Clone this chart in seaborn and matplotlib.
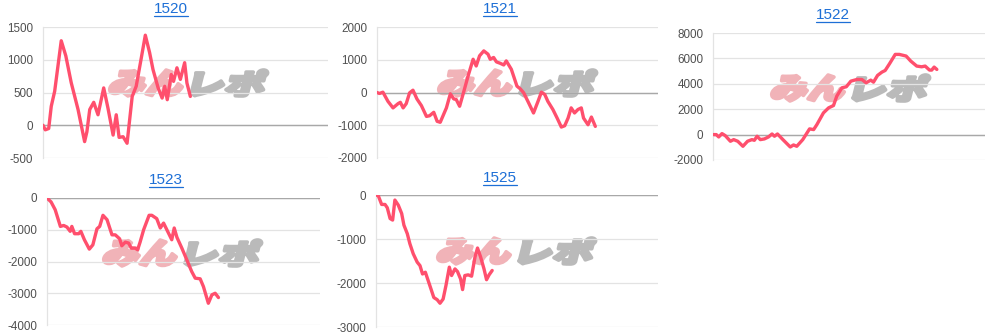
import matplotlib
matplotlib.use('Agg')
import numpy as np
import pandas as pd
import matplotlib.pyplot as plt
import seaborn as sns
from matplotlib.textpath import TextPath
from matplotlib.font_manager import FontProperties
from matplotlib.patches import PathPatch
from matplotlib.transforms import Affine2D, IdentityTransform
from matplotlib.lines import Line2D

sns.set_theme(style='white')
plt.rcParams['font.family'] = ['Liberation Sans', 'DejaVu Sans']
plt.rcParams['axes.unicode_minus'] = False

# ---------------- data ----------------
titles = ['1520', '1521', '1522', '1523', '1525']

x_1520 = [0, 0.8, 2.0, 2.9, 4.1, 6.4, 8.0, 9.9, 12.3, 14.6, 15.4, 16.4, 17.8, 19.3, 21.3, 22.8, 24.6, 25.7, 26.7, 28.1,
          29.5, 31.3, 32.7, 34.5, 35.9, 37.4, 38.6, 40.4, 41.8, 42.7, 43.6, 45.0, 45.8, 47.0, 48.2, 49.7, 50.5, 51.7]
y_1520 = [0, -70, -50, 290, 520, 1290, 1060, 650, 240, -250, -100, 240, 350, 160, 570, 260, -150, 160, -185, -175,
          -275, 440, 595, 1030, 1375, 1110, 850, 570, 415, 595, 390, 775, 670, 877, 700, 955, 645, 440]

x_1521 = [0, 0.9, 2.1, 3.9, 5.7, 7.5, 8.3, 9.3, 10.4, 11.6, 12.8, 14.2, 15.8, 17.6, 18.7, 20.2, 21.4, 22.5, 24.7, 26.1,
          27.3, 28.2, 29.4, 30.6, 32.4, 34.2, 35.3, 36.5, 38.0, 39.5, 40.3, 41.5, 42.5, 43.9, 45.1, 46.0, 47.8, 49.8, 51.0, 52.2,
          53.7, 55.7, 57.3, 58.5, 59.7, 60.8, 62.6, 64.1, 65.6, 66.8, 68.0, 69.1, 70.3, 71.5, 72.7, 73.5, 75.1, 76.3, 77.7]
y_1521 = [0, -30, 10, -270, -470, -340, -300, -470, -340, -10, 70, -195, -400, -730, -710, -605, -880, -910, -470, -40,
          -195, -215, -420, -60, 500, 1015, 810, 1120, 1270, 1170, 1015, 1070, 935, 890, 840, 965, 710, 195, 110, -10,
          -270, -625, -270, 10, -60, -270, -520, -780, -1055, -1015, -780, -470, -625, -520, -470, -780, -985, -750, -1035]

x_1522 = [0, 1.2, 2.1, 3.3, 4.5, 6.4, 7.6, 9.1, 11.0, 12.7, 14.3, 15.2, 16.2, 17.4, 18.9, 20.4, 21.7, 22.6, 23.7, 25.7,
          28.4, 29.6, 30.8, 33.0, 35.5, 37.0, 38.2, 40.6, 42.5, 44.3, 45.5, 47.4, 49.0, 50.7, 52.9, 54.7, 56.3, 58.0, 59.0, 60.5,
          62.1, 63.3, 64.9, 67.0, 68.5, 71.0, 72.7, 74.9, 76.7, 78.0, 79.6, 80.4, 81.3, 82.3]
y_1522 = [0, 0, -185, 80, -80, -525, -395, -525, -920, -525, -395, -450, -130, -395, -340, -185, 50, -130, 50, -395,
          -975, -815, -920, -395, 450, 395, 790, 1710, 2105, 2290, 3025, 3685, 3765, 4210, 4340, 4340, 4080, 4290, 4130, 4660,
          4920, 5050, 5580, 6315, 6315, 6185, 5790, 5395, 5340, 5395, 5080, 5080, 5315, 5130]

x_1523 = [0, 1.5, 3.0, 4.9, 6.1, 7.3, 8.5, 9.1, 10.1, 11.6, 12.4, 13.7, 15.5, 16.8, 18.3, 19.3, 20.5, 22.0, 23.8, 25.0,
          26.6, 27.4, 28.7, 29.9, 30.9, 32.3, 33.2, 34.1, 35.4, 37.4, 38.4, 40.2, 41.5, 42.7, 44.5, 45.7, 46.6, 47.6, 49.4, 51.2,
          53.0, 54.3, 56.1, 57.3, 59.1, 60.4, 61.6, 62.8]
y_1523 = [0, -125, -370, -895, -865, -915, -1050, -895, -1125, -1125, -1050, -1315, -1610, -1475, -970, -895, -545, -685, -1160, -1160,
          -1285, -1505, -1390, -1420, -1580, -1580, -1630, -1390, -1000, -545, -545, -650, -945, -790, -1105, -1315, -945, -1240, -1580, -1945,
          -2315, -2525, -2545, -2790, -3315, -3050, -3000, -3135]

x_1525 = [0, 0.8, 2.0, 3.2, 4.0, 5.0, 5.9, 6.7, 7.9, 9.1, 9.9, 11.1, 12.0, 13.2, 14.6, 15.6, 16.5, 17.5, 18.5, 19.7,
          20.5, 21.7, 22.7, 23.8, 24.8, 26.0, 26.8, 28.0, 28.9, 30.0, 30.7, 31.5, 32.7, 33.9, 35.1, 36.0, 37.1, 38.3, 39.2, 40.1, 41.2]
y_1525 = [0, -15, -215, -215, -290, -535, -570, -115, -230, -420, -685, -880, -1105, -1335, -1525, -1605, -1795, -1755, -1945, -2175,
          -2330, -2380, -2460, -2365, -2060, -1640, -1830, -1680, -1740, -1910, -2150, -1830, -1815, -1845, -1410, -1205, -1410, -1680, -1925, -1815, -1715]

y_ranges = [(-500, 1500, 500), (-2000, 2000, 1000), (-2000, 8000, 2000), (-4000, 0, 1000), (-3000, 0, 1000)]
series = [(x_1520, y_1520), (x_1521, y_1521), (x_1522, y_1522), (x_1523, y_1523), (x_1525, y_1525)]

# ---------------- layout (pixels) ----------------
W, H = 991, 334
boxes = [(43, 328, 27, 158), (377, 658, 27, 158), (713, 985, 33, 160), (47, 320, 198, 325), (376, 658, 195, 327)]
title_pos = [(171, 9), (500, 9), (833, 15), (166, 180), (500, 178)]
logo_pos = [(188, 83), (517, 83), (850, 88), (182, 253), (516, 251)]

LINE = '#ff4f6d'
GRID = '#e3e3e3'
BASE = '#a8a8a8'
TXT = '#505050'
TITLE = '#1d6fd6'

fig = plt.figure(figsize=(W / 100, H / 100), dpi=100)
fig.patch.set_facecolor('white')

fp = FontProperties(family='Noto Sans CJK JP', weight='black')


def add_logo(cx, cy):
    parts = [('みん', '#f1b3b8', 'right'), ('レポ', '#bababa', 'left')]
    for s, col, side in parts:
        tp = TextPath((0, 0), s, size=40, prop=fp)
        ext = tp.get_extents()
        sx = 72 / ext.width
        sy = 26 / ext.height
        x0 = cx - 5 - 72 if side == 'right' else cx + 5
        T = (Affine2D().translate(-ext.x0, -ext.y0).scale(sx, sy)
             .skew_deg(14, 0).translate(x0 - 3, H - cy - 13))
        p = PathPatch(tp, transform=T, facecolor=col, edgecolor=col, linewidth=2.6,
                      joinstyle='round', zorder=-5)
        fig.add_artist(p)


title_texts = []
for i, ((xs, ys), (lo, hi, st), (l, r, t, b)) in enumerate(zip(series, y_ranges, boxes)):
    ax = fig.add_axes([l / W, 1 - b / H, (r - l) / W, (b - t) / H])
    ax.set_facecolor('none')
    df = pd.DataFrame({'x': xs, 'y': ys})
    ax.axhline(0, color=BASE, lw=1.0, zorder=1)
    sns.lineplot(data=df, x='x', y='y', ax=ax, color=LINE, linewidth=2.4, zorder=3)
    ax.set_xlim(0, 100)
    ax.set_ylim(lo, hi)
    ax.set_yticks(np.arange(lo, hi + 1, st))
    ax.set_yticklabels([str(v) for v in np.arange(lo, hi + 1, st)])
    ax.set_xticks([])
    ax.set_xlabel('')
    ax.set_ylabel('')
    ax.grid(axis='y', color=GRID, lw=0.9, zorder=0)
    ax.set_axisbelow(True)
    for sname in ['top', 'right', 'bottom']:
        ax.spines[sname].set_visible(False)
    ax.spines['left'].set_color(GRID)
    ax.spines['left'].set_linewidth(0.9)
    ax.tick_params(axis='y', length=0, pad=7, labelsize=8.4, labelcolor=TXT)
    add_logo(*logo_pos[i])
    tx, ty = title_pos[i]
    tt = fig.text(tx / W, 1 - ty / H, titles[i], ha='center', va='center', fontsize=11, color=TITLE)
    title_texts.append(tt)

fig.canvas.draw()
renderer = fig.canvas.get_renderer()
for tt in title_texts:
    bb = tt.get_window_extent(renderer)
    yl = bb.y0 + 0.5
    fig.add_artist(Line2D([bb.x0, bb.x1], [yl, yl], transform=IdentityTransform(), color=TITLE, lw=0.9))

fig.savefig('out.png', dpi=100, facecolor='white')
